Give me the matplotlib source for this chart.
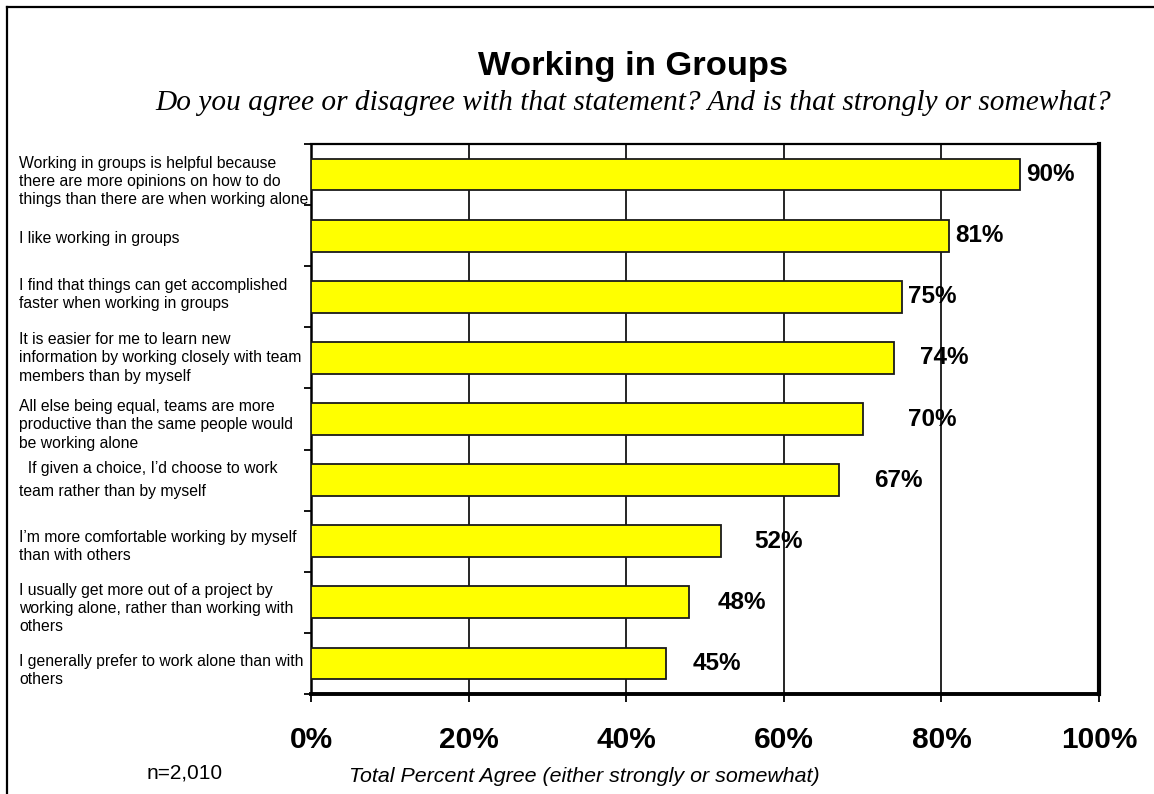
import matplotlib
matplotlib.use("Agg")
import matplotlib.pyplot as plt
from matplotlib.lines import Line2D
from matplotlib.transforms import blended_transform_factory, ScaledTranslation

plt.rcParams["font.family"] = ["Liberation Sans", "DejaVu Sans"]

# Survey statements (top to bottom) and share who agree (%)
statements = [
    "Working in groups is helpful because\nthere are more opinions on how to do\nthings than there are when working alone",
    "I like working in groups",
    "I find that things can get accomplished\nfaster when working in groups",
    "It is easier for me to learn new\ninformation by working closely with team\nmembers than by myself",
    "All else being equal, teams are more\nproductive than the same people would\nbe working alone",
    "  If given a choice, I\u2019d choose to work\nteam rather than by myself",
    "I\u2019m more comfortable working by myself\nthan with others",
    "I usually get more out of a project by\nworking alone, rather than working with\nothers",
    "I generally prefer to work alone than with\nothers",
]
agree_pct = [90, 81, 75, 74, 70, 67, 52, 48, 45]
x_ticks = [0, 20, 40, 60, 80, 100]
x_tick_labels = ["0%", "20%", "40%", "60%", "80%", "100%"]

# gap (points) between each bar end and its value label
label_gap_pt = [4.3, 4.3, 4.3, 18.7, 32.4, 25.2, 23.8, 20.2, 19.8]
# per-label line spacing and downward nudge (pixels) of the category text blocks
label_linespacing = [1.27, 1.27, 1.27, 1.27, 1.27, 1.62, 1.27, 1.27, 1.27]
label_nudge_px = [7, 3, -2, 0, 6, 0, 5, 6, 7]

W, H = 1154, 794
fig = plt.figure(figsize=(W / 100, H / 100), dpi=100)
fig.patch.set_facecolor("white")

ax = fig.add_axes([311 / W, 1 - 694 / H, (1099 - 311) / W, (694 - 144) / H])

ypos = list(range(len(statements)))
ax.barh(ypos, agree_pct, height=0.52, color="#FFFF00",
        edgecolor="#1a1a1a", linewidth=1.3, zorder=3)

ax.set_xlim(0, 100)
ax.set_ylim(len(statements) - 0.5, -0.5)

# vertical gridlines
for v in x_ticks[1:-1]:
    ax.axvline(v, color="black", linewidth=1.2, zorder=1)

ax.set_xticks(x_ticks)
ax.set_xticklabels(x_tick_labels, fontsize=21.5, fontweight="bold")
ax.tick_params(axis="x", direction="out", length=6, width=1.3, pad=17,
               colors="black")

# y ticks sit at category boundaries
ax.set_yticks([i + 0.5 for i in range(-1, len(statements))])
ax.set_yticklabels([])
ax.tick_params(axis="y", direction="out", length=5, width=1.3)

for side, lw in (("top", 1.6), ("left", 1.8), ("right", 3.0), ("bottom", 2.8)):
    ax.spines[side].set_linewidth(lw)
    ax.spines[side].set_color("black")

# value labels
for i, (v, gap) in enumerate(zip(agree_pct, label_gap_pt)):
    ax.annotate(f"{v}%", xy=(v, i), xytext=(gap, 0), textcoords="offset points",
                ha="left", va="center", fontsize=17.5, fontweight="bold",
                color="black", zorder=4, annotation_clip=False)

# category labels on the left
base_tr = blended_transform_factory(fig.transFigure, ax.transData)
for i, (s, ls, dy) in enumerate(zip(statements, label_linespacing, label_nudge_px)):
    tr = base_tr + ScaledTranslation(0, -dy / 100, fig.dpi_scale_trans)
    fig.text(19 / W, i, s, transform=tr, ha="left", va="center",
             fontsize=11.3, linespacing=ls, color="black")

# titles
fig.text(633 / W, 1 - 66 / H, "Working in Groups", ha="center", va="center",
         fontsize=24.8, fontweight="bold")
fig.text(633 / W, 1 - 103 / H,
         "Do you agree or disagree with that statement? And is that strongly or somewhat?",
         ha="center", va="center", fontsize=21.2, style="italic",
         family=["Liberation Serif", "DejaVu Serif"])

# footer texts
fig.text(147 / W, 1 - 773 / H, "n=2,010", ha="left", va="center", fontsize=15)
fig.text(349 / W, 1 - 776 / H, "Total Percent Agree (either strongly or somewhat)",
         ha="left", va="center", fontsize=15.4, style="italic")

# page frame: left and top edges
fig.add_artist(Line2D([7 / W, 7 / W], [0, 1 - 7 / H], transform=fig.transFigure,
                      color="black", linewidth=1.6))
fig.add_artist(Line2D([7 / W, 1], [1 - 7 / H, 1 - 7 / H], transform=fig.transFigure,
                      color="black", linewidth=1.6))

fig.savefig("out.png", dpi=100, facecolor="white")
